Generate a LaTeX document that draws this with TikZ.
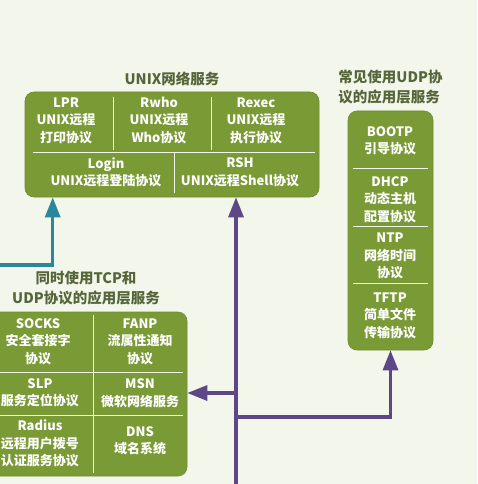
\documentclass[tikz,border=0pt]{standalone}
\usepackage{fontspec}
\newfontfamily\cjk{Noto Sans CJK SC}
\usepackage{xcolor}
\usepackage{tikz}
\usetikzlibrary{positioning}
\usetikzlibrary{arrows.meta}
\definecolor{paper}{HTML}{F3F6EB}
\definecolor{leaf}{HTML}{7A9A35}
\definecolor{leafedge}{HTML}{6E8C2E}
\definecolor{olivetext}{HTML}{56663A}
\definecolor{tealline}{HTML}{2A879C}
\definecolor{plumline}{HTML}{5C4886}
\tikzset{	x=1pt, y=-1pt,
	group/.style={
		draw=leafedge,
		fill=leaf,
		rounded corners=9pt,
		line width=0.6pt,
		inner sep=0pt},
	cell/.style={
		text=white,
		align=center,
		inner sep=0pt,
		font=\cjk\bfseries\fontsize{13}{17.5}\selectfont},
	caption/.style={
		text=olivetext,
		inner sep=0pt,
		font=\cjk\bfseries\fontsize{14.5}{20}\selectfont},
	divider/.style={draw=white!90!leaf, line width=1pt},
	link/.style={
		line width=3.2pt,
		-{Triangle[length=20pt, width=15pt]}}
}

\begin{document}
\begin{tikzpicture}
				\fill[paper] (0,0) rectangle (477,484);
				\useasboundingbox (0,0) rectangle (477,484);
				% groups
				\node[group, minimum width=294pt, minimum height=105pt] (unix) at (172,144.5) {};
				\node[group, minimum width=85pt, minimum height=239pt] (udp) at (390.5,230.5) {};
				\node[group, minimum width=202pt, minimum height=164pt] (mixed) at (86,394) {};
				\node[caption, above=6pt of unix] (unixtitle) {UNIX网络服务};
				\node[caption, align=left, above=6pt of udp] (udptitle) {常见使用UDP协\\议的应用层服务};
				\node[caption, align=center, above=6pt of mixed] (mixedtitle) {同时使用TCP和\\UDP协议的应用层服务};
				% dividers
				\draw[divider] (33,152) -- (315,152);
				\draw[divider] (113,97) -- (113,150);
				\draw[divider] (211,97) -- (211,150);
				\draw[divider] (174,153) -- (174,193);
				\draw[divider] (353,168) -- (428,168);
				\draw[divider] (353,226) -- (428,226);
				\draw[divider] (353,283) -- (428,283);
				\draw[divider] (93,315) -- (93,473);
				\draw[divider] (-15,372) -- (183,372);
				\draw[divider] (-15,415) -- (183,415);
				% cells
				\node[cell] (lpr) at (66,120.5) {LPR\\UNIX远程\\打印协议};
				\node[cell] (rwho) at (159,120.5) {Rwho\\UNIX远程\\Who协议};
				\node[cell] (rexec) at (256,120.5) {Rexec\\UNIX远程\\执行协议};
				\node[cell] (login) at (106,172.5) {Login\\UNIX远程登陆协议};
				\node[cell] (rsh) at (240,172.5) {RSH\\UNIX远程Shell协议};
				\node[cell] (bootp) at (390,141) {BOOTP\\引导协议};
				\node[cell] (dhcp) at (390,199.5) {DHCP\\动态主机\\配置协议};
				\node[cell] (ntp) at (390,256) {NTP\\网络时间\\协议};
				\node[cell] (tftp) at (390,315.5) {TFTP\\简单文件\\传输协议};
				\node[cell] (socks) at (38,341.5) {SOCKS\\安全套接字\\协议};
				\node[cell] (fanp) at (140,341.5) {FANP\\流属性通知\\协议};
				\node[cell] (slp) at (40,393) {SLP\\服务定位协议};
				\node[cell] (msn) at (140,393) {MSN\\微软网络服务};
				\node[cell] (radius) at (40,443.5) {Radius\\远程用户拨号\\认证服务协议};
				\node[cell] (dns) at (140,441) {DNS\\域名系统};
				% connectors
				\coordinate (tcpin) at (0,265);
				\coordinate (root) at (236,484);
				\coordinate (forkmixed) at (236,393);
				\coordinate (forkudp) at (236,417);
				\draw[link, tealline] (tcpin) -| ([xshift=28pt]unix.south west);
				\draw[link, plumline] (root) -- (root |- unix.south);
				\draw[link, plumline] (forkmixed) -- (forkmixed -| mixed.east);
				\draw[link, plumline] (forkudp) -| (udp.south);
			\end{tikzpicture}
\end{document}
